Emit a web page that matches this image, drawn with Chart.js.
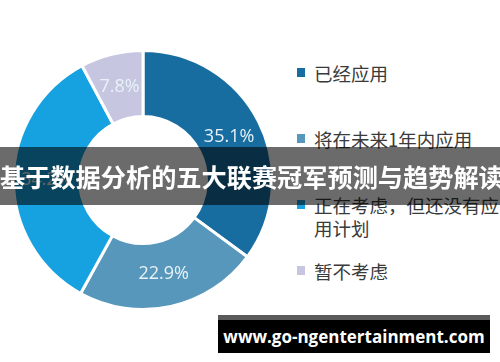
<!DOCTYPE html>
<html>
<head>
<meta charset="utf-8">
<script src="https://cdn.jsdelivr.net/npm/chart.js@4/dist/chart.umd.min.js"></script>
<style>
  html, body { margin: 0; padding: 0; background: #fff; }
  body { width: 500px; height: 362px; position: relative; overflow: hidden;
         font-family: "Noto Sans CJK SC", "Noto Sans", sans-serif; }
  #wrap { position: absolute; left: 12px; top: 49px; width: 262px; height: 262px; }
  #legend { position: absolute; left: 296px; top: 62px; margin: 0; padding: 0; list-style: none; }
  #legend li { position: relative; height: 66px; padding-left: 18px; }
  #legend .sw { position: absolute; left: 1px; top: 6px; width: 8px; height: 9px; }
  #legend .tx { display: block; width: 188px; font-size: 18.5px; line-height: 23px; color: #3a3a3a; }
  #banner { position: absolute; left: 0; top: 147px; width: 500px; height: 58px;
            background: rgba(0,0,0,0.58); color: #fff; font-weight: 700; font-size: 25.2px;
            line-height: 58px; text-align: center; white-space: nowrap; letter-spacing: 0; }
  #mark { position: absolute; left: 218px; top: 315px; width: 272px; height: 38px;
          background: #000; border-top: 5px solid #5a5a5a; box-sizing: border-box;
          color: #fff; font-family: "Open Sans", sans-serif; font-weight: 700; font-size: 17px;
          line-height: 33px; text-align: center; }
</style>
</head>
<body>
<div id="wrap"><canvas id="c"></canvas></div>
<ul id="legend"></ul>
<div id="banner">基于数据分析的五大联赛冠军预测与趋势解读</div>
<div id="mark">www.go-ngentertainment.com</div>
<script>
// Survey categories, shares (%) and slice colours
const categories = ['已经应用', '将在未来1年内应用', '正在考虑，但还没有应用计划', '暂不考虑'];
const shares = [35.1, 22.9, 34.2, 7.8];
const colors = ['#176ca0', '#5797bb', '#16a2e0', '#c6c6e0'];

// Percentage text placed at the middle of each arc
const sliceLabels = {
  id: 'sliceLabels',
  afterDatasetsDraw(chart) {
    const ctx = chart.ctx;
    const meta = chart.getDatasetMeta(0);
    ctx.save();
    ctx.font = '400 18px "Open Sans", sans-serif';
    ctx.fillStyle = '#e8f2f8';
    ctx.textAlign = 'center';
    ctx.textBaseline = 'middle';
    meta.data.forEach((arc, i) => {
      const p = arc.tooltipPosition();
      ctx.fillText(shares[i].toFixed(1) + '%', p.x, p.y);
    });
    ctx.restore();
  }
};

const chart = new Chart(document.getElementById('c'), {
  type: 'doughnut',
  data: {
    labels: categories,
    datasets: [{
      data: shares,
      backgroundColor: colors,
      borderColor: '#ffffff',
      borderWidth: 3
    }]
  },
  options: {
    responsive: true,
    maintainAspectRatio: false,
    animation: false,
    cutout: '49%',
    layout: { padding: 0 },
    plugins: { legend: { display: false }, tooltip: { enabled: false } }
  },
  plugins: [sliceLabels]
});

// Legend built from the same categories and colours
const legend = document.getElementById('legend');
categories.forEach((name, i) => {
  const li = document.createElement('li');
  const sw = document.createElement('span');
  sw.className = 'sw';
  sw.style.background = colors[i];
  const tx = document.createElement('span');
  tx.className = 'tx';
  tx.textContent = name;
  li.appendChild(sw);
  li.appendChild(tx);
  legend.appendChild(li);
});
</script>
</body>
</html>
